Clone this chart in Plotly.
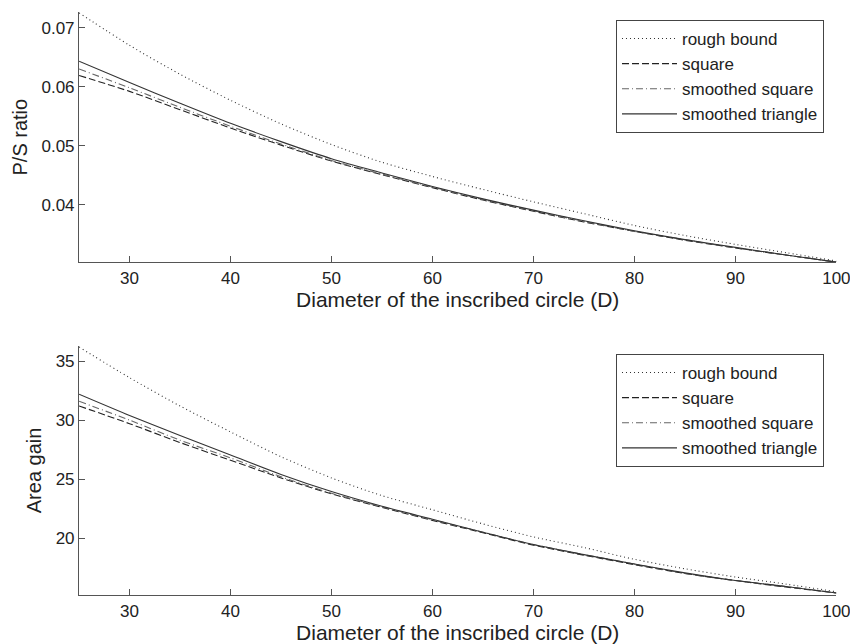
import plotly.graph_objects as go

D = [25, 30, 35, 40, 45, 50, 55, 60, 65, 70, 75, 80, 85, 90, 95, 100]

# P/S ratio
ps_rough = [0.0725, 0.0670, 0.0621, 0.0577, 0.0537, 0.0502, 0.0472, 0.0448, 0.0426, 0.0405, 0.0385, 0.0365, 0.0348, 0.0333, 0.0319, 0.0305]
ps_square = [0.0619, 0.0592, 0.0561, 0.0530, 0.0501, 0.0474, 0.0451, 0.0429, 0.0408, 0.0389, 0.0371, 0.0355, 0.0340, 0.0327, 0.0315, 0.0303]
ps_ssquare = [0.0630, 0.0598, 0.0565, 0.0533, 0.0503, 0.0475, 0.0452, 0.0430, 0.0409, 0.0390, 0.0372, 0.0355, 0.0341, 0.0327, 0.0315, 0.0303]
ps_stri = [0.0643, 0.0607, 0.0572, 0.0538, 0.0507, 0.0478, 0.0454, 0.0431, 0.0410, 0.0391, 0.0373, 0.0356, 0.0341, 0.0328, 0.0315, 0.0303]

# Area gain
ag_rough = [36.2, 33.6, 31.2, 29.0, 26.9, 25.1, 23.6, 22.4, 21.2, 20.1, 19.2, 18.2, 17.4, 16.7, 16.1, 15.45]
ag_square = [31.2, 29.7, 28.1, 26.6, 25.1, 23.75, 22.6, 21.5, 20.45, 19.4, 18.55, 17.75, 17.0, 16.4, 15.85, 15.35]
ag_ssquare = [31.6, 30.0, 28.3, 26.8, 25.2, 23.8, 22.65, 21.55, 20.5, 19.45, 18.6, 17.8, 17.0, 16.4, 15.9, 15.35]
ag_stri = [32.2, 30.4, 28.7, 27.05, 25.4, 23.95, 22.7, 21.6, 20.5, 19.45, 18.6, 17.8, 17.05, 16.4, 15.9, 15.35]

names = ["rough bound", "square", "smoothed square", "smoothed triangle"]
dashes = ["1px,3px", "7px,3px", "7px,3px,1px,3px", "solid"]
colors = ["#333333", "#222222", "#666666", "#333333"]

FONT = "Liberation Sans, Arial, sans-serif"
TXT = "#222222"

fig = go.Figure()
top = [ps_rough, ps_square, ps_ssquare, ps_stri]
bot = [ag_rough, ag_square, ag_ssquare, ag_stri]
for i in range(4):
    fig.add_trace(go.Scatter(x=D, y=top[i], mode="lines", name=names[i],
                             line=dict(color=colors[i], dash=dashes[i], width=1.1, shape="spline", smoothing=0.8),
                             xaxis="x", yaxis="y", legend="legend"))
for i in range(4):
    fig.add_trace(go.Scatter(x=D, y=bot[i], mode="lines", name=names[i],
                             line=dict(color=colors[i], dash=dashes[i], width=1.1, shape="spline", smoothing=0.8),
                             xaxis="x2", yaxis="y2", legend="legend2"))

axis_common = dict(showgrid=False, zeroline=False, showline=True, linecolor="#555555",
                   linewidth=1.2, ticks="inside", ticklen=6, tickcolor="#555555",
                   ticklabeloverflow="allow", automargin=False,
                   tickfont=dict(family=FONT, size=17, color=TXT), mirror=False)

xtitle = dict(text="Diameter of the inscribed circle (D)", font=dict(family=FONT, size=21, color=TXT), standoff=0)

legend_common = dict(xanchor="left", yanchor="top", bgcolor="white",
                     bordercolor="#444444", borderwidth=1, itemwidth=55,
                     font=dict(family=FONT, size=17, color=TXT), tracegroupgap=0)

fig.update_layout(
    width=850, height=644,
    margin=dict(l=0, r=0, t=0, b=0, autoexpand=False),
    paper_bgcolor="white", plot_bgcolor="white",
    xaxis=dict(domain=[0.093, 0.984], range=[25, 100], tickvals=[30, 40, 50, 60, 70, 80, 90, 100],
               anchor="y", title=xtitle, **axis_common),
    yaxis=dict(domain=[0.593, 0.981], range=[0.0303, 0.0726], tickvals=[0.04, 0.05, 0.06, 0.07],
               tickformat=".2f", anchor="x",
               title=dict(text="P/S ratio", font=dict(family=FONT, size=20, color=TXT), standoff=8),
               **axis_common),
    xaxis2=dict(domain=[0.093, 0.984], range=[25, 100], tickvals=[30, 40, 50, 60, 70, 80, 90, 100],
                anchor="y2", title=xtitle, **axis_common),
    yaxis2=dict(domain=[0.076, 0.463], range=[15.17, 36.3], tickvals=[20, 25, 30, 35],
                anchor="x2",
                title=dict(text="Area gain", font=dict(family=FONT, size=20, color=TXT), standoff=8),
                **axis_common),
    legend=dict(x=0.7247, y=1 - 20 / 644, **legend_common),
    legend2=dict(x=0.7247, y=1 - 354 / 644, **legend_common),
)

fig.write_html("out.html")
